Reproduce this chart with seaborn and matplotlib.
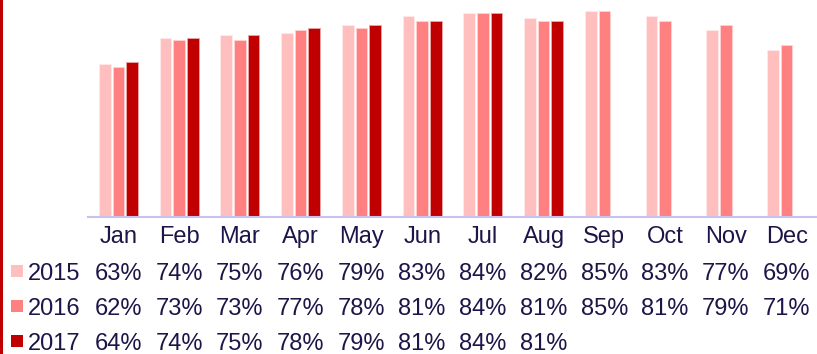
import numpy as np
import pandas as pd
import matplotlib
matplotlib.use("Agg")
import matplotlib.pyplot as plt
import seaborn as sns
from matplotlib.patches import Rectangle
from matplotlib.transforms import blended_transform_factory

months = ["Jan", "Feb", "Mar", "Apr", "May", "Jun", "Jul", "Aug", "Sep", "Oct", "Nov", "Dec"]
years = ["2015", "2016", "2017"]
occ_2015 = [63, 74, 75, 76, 79, 83, 84, 82, 85, 83, 77, 69]
occ_2016 = [62, 73, 73, 77, 78, 81, 84, 81, 85, 81, 79, 71]
occ_2017 = [64, 74, 75, 78, 79, 81, 84, 81, None, None, None, None]
palette = ["#FFBFBF", "#FF8080", "#C00000"]

series = {"2015": occ_2015, "2016": occ_2016, "2017": occ_2017}
rows = []
for yr, vals in series.items():
    for m, v in zip(months, vals):
        rows.append({"month": m, "year": yr, "value": np.nan if v is None else v})
df = pd.DataFrame(rows)

sns.set_theme(style="white")
plt.rcParams["font.family"] = ["Liberation Sans", "DejaVu Sans"]
text_color = "#1C1548"

W, H = 817, 354
fig = plt.figure(figsize=(W / 100, H / 100), dpi=100)
ax = fig.add_axes([88 / W, (H - 217) / H, (W - 88) / W, 217 / H])

sns.barplot(data=df, x="month", y="value", hue="year", order=months,
            hue_order=years, palette=palette, width=0.67, gap=0.14,
            saturation=1, legend=False, ax=ax, edgecolor="none")
for bar in ax.patches:
    fc = bar.get_facecolor()
    bar.set_edgecolor(tuple(min(1, c * 0.35 + 0.65) for c in fc[:3]))
    bar.set_linewidth(0.6)

ax.set_xlim(-0.5, 11.5)
ax.set_ylim(0, 89.5)
ax.set_xlabel("")
ax.set_ylabel("")
ax.set_xticks([])
ax.set_yticks([])
for s in ["top", "right", "left"]:
    ax.spines[s].set_visible(False)
ax.spines["bottom"].set_color("#C8C2F0")
ax.spines["bottom"].set_linewidth(1.5)

# Data table beneath the bars
tr = blended_transform_factory(ax.transData, fig.transFigure)
fs = 17
for i, m in enumerate(months):
    ax.text(i, 1 - 243 / H, m, transform=tr, ha="center", va="baseline",
            fontsize=fs, color=text_color)
row_base = [280, 315, 350]
for yr, col, yb in zip(years, palette, row_base):
    fig.text(28 / W, 1 - yb / H, yr, ha="left", va="baseline",
             fontsize=fs, color=text_color)
    fig.patches.append(Rectangle((11 / W, 1 - (yb - 3) / H), 12 / W, 12 / H,
                                 transform=fig.transFigure, facecolor=col,
                                 edgecolor="none"))
    for i, v in enumerate(series[yr]):
        if v is None:
            continue
        ax.text(i, 1 - yb / H, f"{v}%", transform=tr, ha="center",
                va="baseline", fontsize=fs, color=text_color)

# Accent rule along the left edge
fig.patches.append(Rectangle((0, 0), 3 / W, 1, transform=fig.transFigure,
                             facecolor="#C00000", edgecolor="none"))

fig.savefig("out.png", dpi=100)
